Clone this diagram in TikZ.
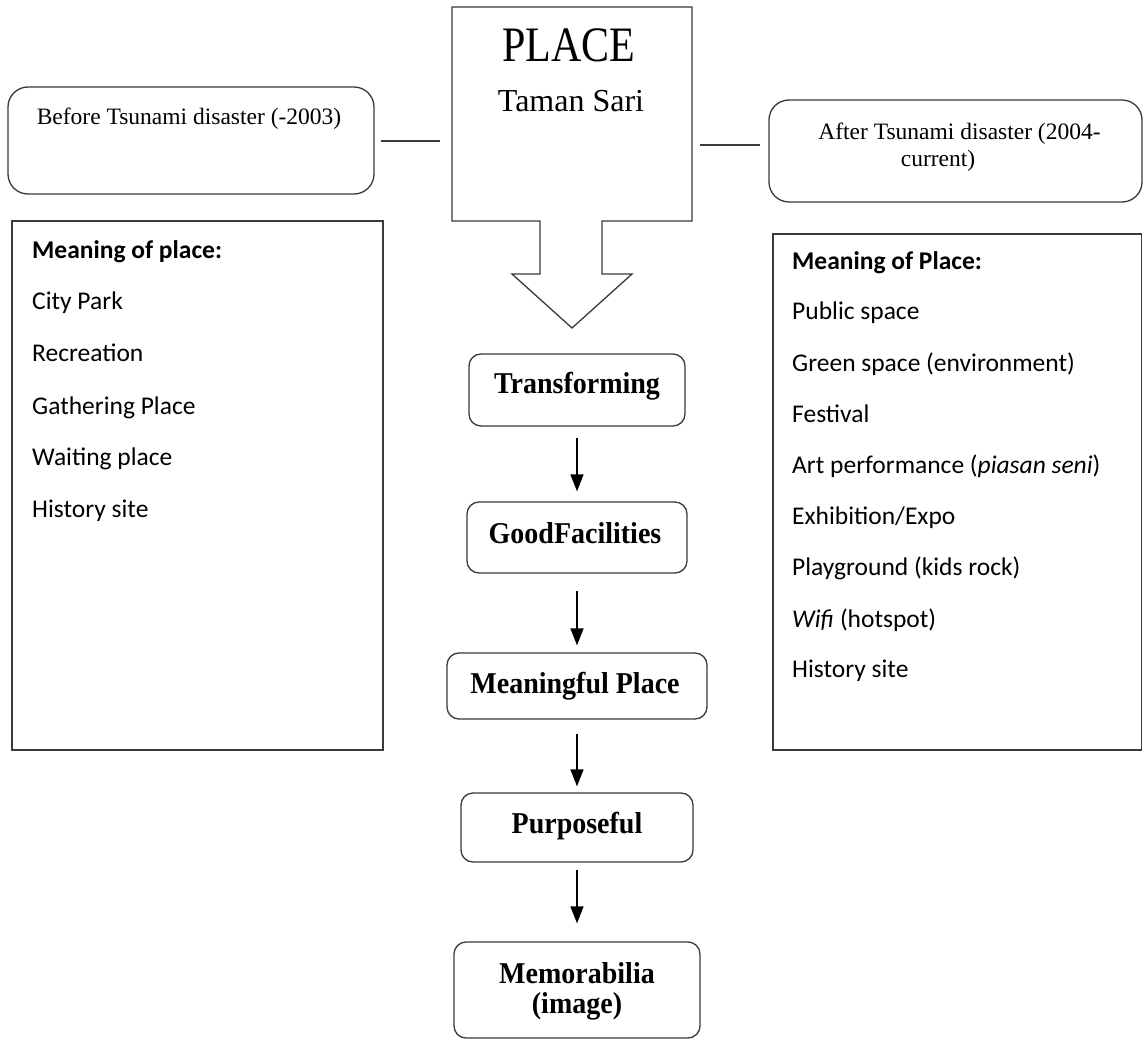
\documentclass[tikz,border=0pt]{standalone}
\usepackage{fontspec}
\setmainfont{Liberation Serif}
\newfontfamily\calib{Carlito}
\usetikzlibrary{arrows.meta}
\definecolor{edge}{HTML}{3A3A3A}
\tikzset{
  box/.style={draw=edge, line width=1.3pt, rectangle, inner sep=0pt},
  rbox/.style={box, rounded corners=12pt},
  tbox/.style={box, rounded corners=20pt},
  lbl/.style={anchor=base, inner sep=0pt, font=\fontsize{28}{30}\selectfont\bfseries},
  ttl/.style={anchor=base, inner sep=0pt, font=\fontsize{23.5}{27}\selectfont},
  itm/.style={anchor=base west, inner sep=0pt, font=\calib\fontsize{25.5}{28}\selectfont},
  conn/.style={draw=edge, line width=1.3pt},
  flow/.style={line width=1.6pt, -{Triangle[width=13pt,length=17pt]}}
}
\begin{document}
\begin{tikzpicture}[x=1pt,y=-1pt]
\useasboundingbox (0,0) rectangle (1143,1040);
\fill[white] (0,0) rectangle (1143,1040);

% PLACE shape with down arrow
\draw[conn] (540,221) -- (452,221) -- (452,7) -- (692,7) -- (692,221) -- (602,221)
  -- (602,274) -- (632,274) -- (572,328) -- (512,274) -- (540,274) -- cycle;
\node (placebox) at (572,114) [minimum width=240pt, minimum height=214pt, inner sep=0pt] {};
\node (placetxt) [anchor=base, inner sep=0pt, font=\fontsize{42}{44}\selectfont] at (569,62) {\scalebox{1}[1.18]{PLACE}};
\node (tamantxt) [anchor=base, inner sep=0pt, font=\fontsize{32}{34}\selectfont] at (571,112) {Taman Sari};

% top side boxes
\node (before) [tbox, minimum width=366pt, minimum height=107pt] at (191,140.5) {};
\node (beforetxt) [ttl] at (189,125) {Before Tsunami disaster (-2003)};
\node (after) [tbox, minimum width=373pt, minimum height=102pt] at (955.5,151) {};
\node (aftertxt1) [ttl] at (959.5,140) {After Tsunami disaster (2004-};
\node (aftertxt2) [ttl] at (938,167) {current)};

\coordinate (lA) at (381,141);
\coordinate (lB) at (440,141);
\coordinate (rA) at (700,145);
\coordinate (rB) at (760,145);
\draw[conn] (lA) -- (lB);
\draw[conn] (rA) -- (rB);

% meaning boxes
\node (leftbox) [box, minimum width=371pt, minimum height=529pt] at (197.5,485.5) {};
\node (lh) [itm, font=\calib\bfseries\fontsize{25.5}{28}\selectfont] at (32,259) {Meaning of place:};
\node (l1) [itm] at (32,310) {City Park};
\node (l2) [itm] at (32,362) {Recreation};
\node (l3) [itm] at (32,414) {Gathering Place};
\node (l4) [itm] at (32,465.5) {Waiting place};
\node (l5) [itm] at (32,517) {History site};

\node (rightbox) [box, minimum width=368.5pt, minimum height=516pt] at (957.25,492) {};
\node (rh) [itm, font=\calib\bfseries\fontsize{25.5}{28}\selectfont] at (792,270) {Meaning of Place:};
\node (r1) [itm] at (792,320) {Public space};
\node (r2) [itm] at (792,371.5) {Green space (environment)};
\node (r3) [itm] at (792,422.5) {Festival};
\node (r4) [itm] at (792,473.5) {Art performance (\textit{piasan seni})};
\node (r5) [itm] at (792,524.5) {Exhibition/Expo};
\node (r6) [itm] at (792,575.5) {Playground (kids rock)};
\node (r7) [itm] at (792,627) {\textit{Wifi} (hotspot)};
\node (r8) [itm] at (792,677.5) {History site};

% flow boxes
\node (trans) [rbox, minimum width=216pt, minimum height=72pt] at (577,390) {};
\node (transtxt) [lbl] at (577,393) {\scalebox{1}[1.08]{Transforming}};
\node (good) [rbox, minimum width=220pt, minimum height=71pt] at (577,537.5) {};
\node (goodtxt) [lbl] at (575,543) {\scalebox{1}[1.08]{GoodFacilities}};
\node (mean) [rbox, minimum width=260pt, minimum height=66pt] at (577,686) {};
\node (meantxt) [lbl] at (575,693) {\scalebox{1}[1.08]{Meaningful Place}};
\node (purp) [rbox, minimum width=232pt, minimum height=69pt] at (577,827.5) {};
\node (purptxt) [lbl] at (577,833) {\scalebox{1}[1.08]{Purposeful}};
\node (memo) [rbox, minimum width=246pt, minimum height=96pt] at (577,990) {};
\node (memotxt1) [lbl] at (577,983) {\scalebox{1}[1.08]{Memorabilia}};
\node (memotxt2) [lbl] at (577,1013) {\scalebox{1}[1.08]{(image)}};

% flow arrows
\draw[flow, shorten <=11pt, shorten >=10pt] (trans.south) -- (good.north);
\draw[flow, shorten <=17pt, shorten >=7pt] (good.south) -- (mean.north);
\draw[flow, shorten <=14pt, shorten >=6pt] (mean.south) -- (purp.north);
\draw[flow, shorten <=7pt, shorten >=18pt] (purp.south) -- (memo.north);
\end{tikzpicture}
\end{document}
